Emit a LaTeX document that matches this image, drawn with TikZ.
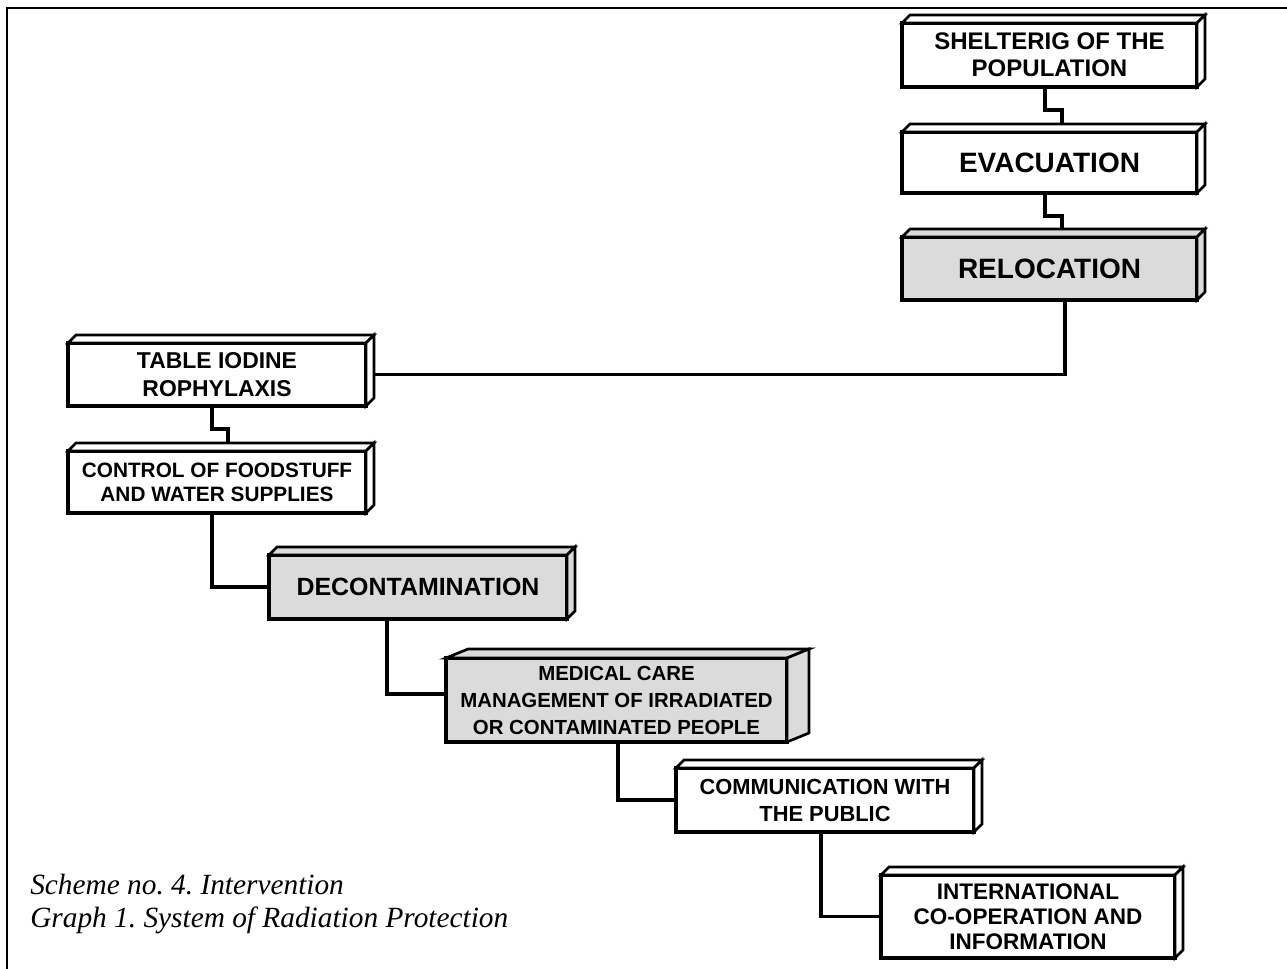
\documentclass[tikz,border=0pt]{standalone}
\usepackage{fontspec}
\setmainfont{Liberation Serif}
\setsansfont{Liberation Sans}
\usepackage{tikz}

\definecolor{slabgray}{gray}{0.86}
\tikzset{
  slab/.style={draw, line width=2.6pt, fill=white, inner sep=0pt, outer sep=0pt, align=center},
  slabsize/.style 2 args={minimum width=0.75*#1, minimum height=0.75*#2},
  slabfont/.style 2 args={font=\sffamily\bfseries\fontsize{#1}{#2}\selectfont},
  shaded/.style={fill=slabgray},
  face/.style={draw, line width=2pt},
  link/.style={line width=2.6pt},
  caption/.style={anchor=base west, inner sep=0pt, font=\itshape\fontsize{22}{26}\selectfont},
}
% top and side faces of a slab: node, dx, dy, fill
\newcommand{\slabfaces}[4]{%
  \draw[face, fill=#4] (#1.north west) -- ++(#2,-#3) -- ([shift={(#2,-#3)}]#1.north east) -- (#1.north east) -- cycle;
  \draw[face, fill=#4] (#1.north east) -- ++(#2,-#3) -- ([shift={(#2,-#3)}]#1.south east) -- (#1.south east) -- cycle;
}

\begin{document}
\frenchspacing
\begin{tikzpicture}[x=0.75pt,y=0.75pt,yscale=-1,xscale=1]
\useasboundingbox (0,0) rectangle (1287,969);

% frame
\draw [line width=1.5pt] (7,969) -- (7,8) -- (1287,8);

% Boxes
\node [slab, slabsize={295}{64}, slabfont={18}{20.25}] (shelter) at (1049.5,55) {SHELTERIG OF THE\\POPULATION};
\node [slab, slabsize={295}{61}, slabfont={21}{24}] (evac) at (1049.5,162.5) {EVACUATION};
\node [slab, shaded, slabsize={295}{63}, slabfont={21}{24}] (reloc) at (1049.5,268.5) {RELOCATION};
\node [slab, slabsize={298}{63}, slabfont={17.2}{21}] (iodine) at (217,374.5) {TABLE IODINE\\ROPHYLAXIS};
\node [slab, slabsize={298}{62}, slabfont={15.6}{18}] (food) at (217,482) {CONTROL OF FOODSTUFF\\AND WATER SUPPLIES};
\node [slab, shaded, slabsize={298}{64}, slabfont={18.7}{22}] (decon) at (418,587) {DECONTAMINATION};
\node [slab, shaded, slabsize={341}{84}, slabfont={15.3}{20.25}] (medical) at (616.5,700) {MEDICAL CARE\\MANAGEMENT OF IRRADIATED\\OR CONTAMINATED PEOPLE};
\node [slab, slabsize={298}{64}, slabfont={16.4}{20.25}] (public) at (825,800) {COMMUNICATION WITH\\THE PUBLIC};
\node [slab, slabsize={294}{83}, slabfont={16.9}{18.75}] (intl) at (1028,916.5) {INTERNATIONAL\\CO-OPERATION AND\\INFORMATION};

% Connectors
\draw [link] (shelter.south -| 1045,0) |- (1062,110) -- (evac.north -| 1062,0);
\draw [link] (evac.south -| 1045,0) |- (1062,216) -- (reloc.north -| 1062,0);
\draw [link] (reloc.south -| 1065,0) |- (iodine.east);
\draw [link] (iodine.south -| 212,0) |- (228,429) -- (food.north -| 228,0);
\draw [link] (food.south -| 212,0) |- (decon.west);
\draw [link] (decon.south -| 387,0) |- (medical.west |- 0,694);
\draw [link] (medical.south -| 618,0) |- (public.west);
\draw [link] (public.south -| 821,0) |- (intl.west);

% 3d faces
\slabfaces{shelter}{8}{8}{white}
\slabfaces{evac}{8}{8}{white}
\slabfaces{reloc}{8}{8}{slabgray}
\slabfaces{iodine}{8}{8}{white}
\slabfaces{food}{8}{8}{white}
\slabfaces{decon}{8}{8}{slabgray}
\slabfaces{medical}{22}{9}{slabgray}
\slabfaces{public}{8}{8}{white}
\slabfaces{intl}{8}{8}{white}

% Caption
\node [caption] (scheme) at (30,894) {Scheme no. 4. Intervention};
\node [caption] (graph) at (30,927) {Graph 1. System of Radiation Protection};

\end{tikzpicture}
\end{document}
